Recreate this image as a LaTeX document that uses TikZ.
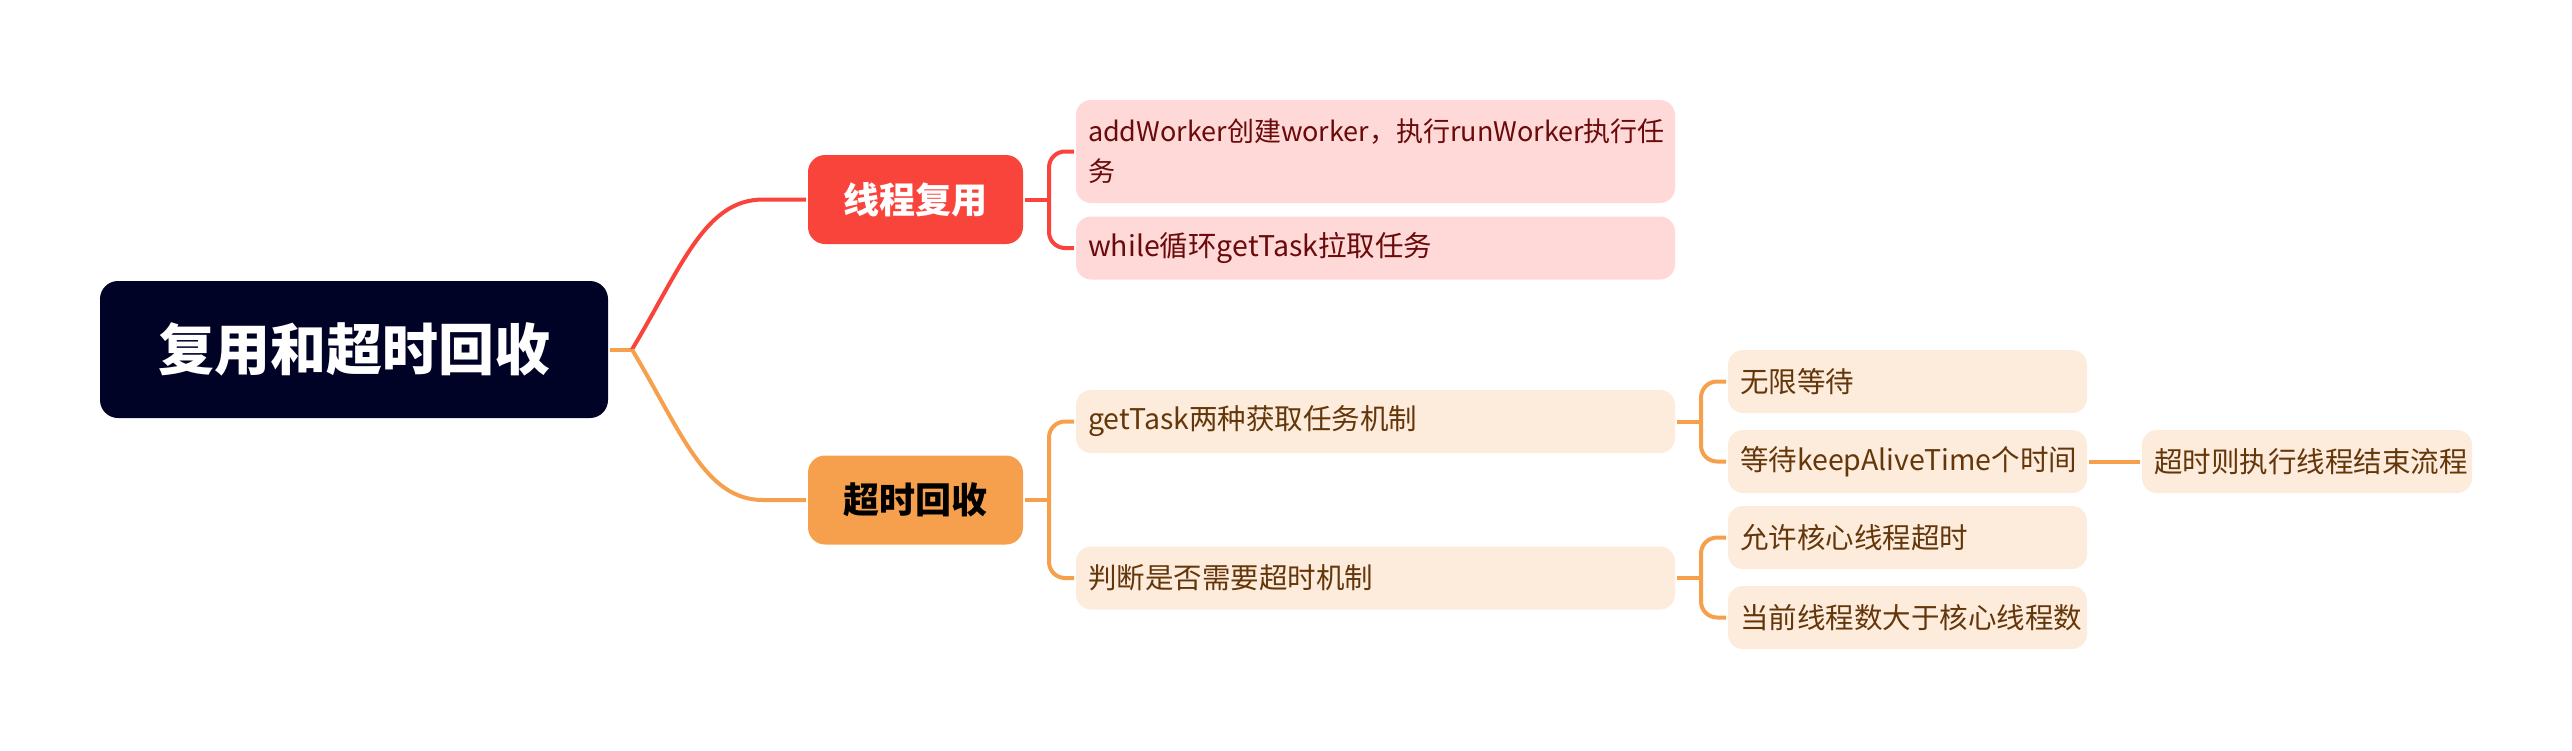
\documentclass[tikz,border=0pt]{standalone}
\usepackage{fontspec}
\setmainfont{Noto Sans CJK SC}
\definecolor{rootbg}{RGB}{0,2,38}
\definecolor{reusered}{RGB}{249,68,60}
\definecolor{recycleorange}{RGB}{246,160,77}
\definecolor{reusepink}{RGB}{255,217,216}
\definecolor{reusetext}{RGB}{106,10,10}
\definecolor{recyclecream}{RGB}{253,235,220}
\definecolor{recycletext}{RGB}{100,55,10}
\tikzset{
  topic/.style={rectangle, rounded corners=17pt, inner sep=0pt, minimum width=215pt, minimum height=89pt, font=\bfseries\fontsize{36pt}{40pt}\selectfont},
  leaf/.style={rectangle, rounded corners=15pt, inner xsep=12pt, inner ysep=0pt, align=left, minimum height=63pt, font=\fontsize{28.5pt}{40pt}\selectfont},
  reuseleaf/.style={leaf, fill=reusepink, text=reusetext, text width=575pt},
  recycleleaf/.style={leaf, fill=recyclecream, text=recycletext},
  fork/.style={rounded corners=16pt}
}
\begin{document}
\begin{tikzpicture}[x=1pt, y=-1pt, line width=4pt]
\useasboundingbox (0,0) rectangle (2572,750);
\node[topic, fill=rootbg, text=white, minimum width=508pt, minimum height=137pt, rounded corners=18pt, font=\bfseries\fontsize{56pt}{60pt}\selectfont] (root) at (354,349.5) {复用和超时回收};
\node[topic, fill=reusered, text=white] (reuse) at (915.5,199.5) {线程复用};
\node[topic, fill=recycleorange, text=black] (recycle) at (915.5,500) {超时回收};

\node[reuseleaf, minimum height=103pt, font=\fontsize{27pt}{40pt}\selectfont] (addworker) at (1375.5,151.5) {addWorker创建worker，执行runWorker执行任\\务};
\node[reuseleaf] (whileloop) at (1375.5,248) {while循环getTask拉取任务};
\node[recycleleaf, text width=575pt] (gettask) at (1375.5,421.5) {getTask两种获取任务机制};
\node[recycleleaf, text width=575pt] (judge) at (1375.5,578) {判断是否需要超时机制};

\node[recycleleaf, text width=335pt] (waitforever) at (1907.5,381.5) {无限等待};
\node[recycleleaf, text width=335pt] (keepalive) at (1907.5,461.5) {等待keepAliveTime个时间};
\node[recycleleaf, text width=335pt] (allowcore) at (1907.5,537.5) {允许核心线程超时};
\node[recycleleaf, text width=335pt] (morethan) at (1907.5,617.5) {当前线程数大于核心线程数};
\node[recycleleaf, text width=306pt] (finish) at (2307,461.5) {超时则执行线程结束流程};

\coordinate (rootfork) at (632,349.5);
\draw[recycleorange] (root.east) -- (rootfork);
\draw[reusered] (rootfork) .. controls (682,266) and (705,199.5) .. ([xshift=-43pt]reuse.west) -- (reuse.west);
\draw[recycleorange] (rootfork) .. controls (682,433) and (705,500) .. ([xshift=-43pt]recycle.west) -- (recycle.west);

\draw[reusered] (reuse.east) -- ++(24,0) coordinate (reusefork);
\draw[reusered, fork] (addworker.west) -| (reusefork) |- (whileloop.west);
\draw[recycleorange] (recycle.east) -- ++(24,0) coordinate (recyclefork);
\draw[recycleorange, fork] (gettask.west) -| (recyclefork) |- (judge.west);
\draw[recycleorange] (gettask.east) -- ++(24,0) coordinate (taskfork);
\draw[recycleorange, fork] (waitforever.west) -| (taskfork) |- (keepalive.west);
\draw[recycleorange] (judge.east) -- ++(24,0) coordinate (judgefork);
\draw[recycleorange, fork] (allowcore.west) -| (judgefork) |- (morethan.west);
\draw[recycleorange] (keepalive.east) -- (finish.west);
\end{tikzpicture}
\end{document}
